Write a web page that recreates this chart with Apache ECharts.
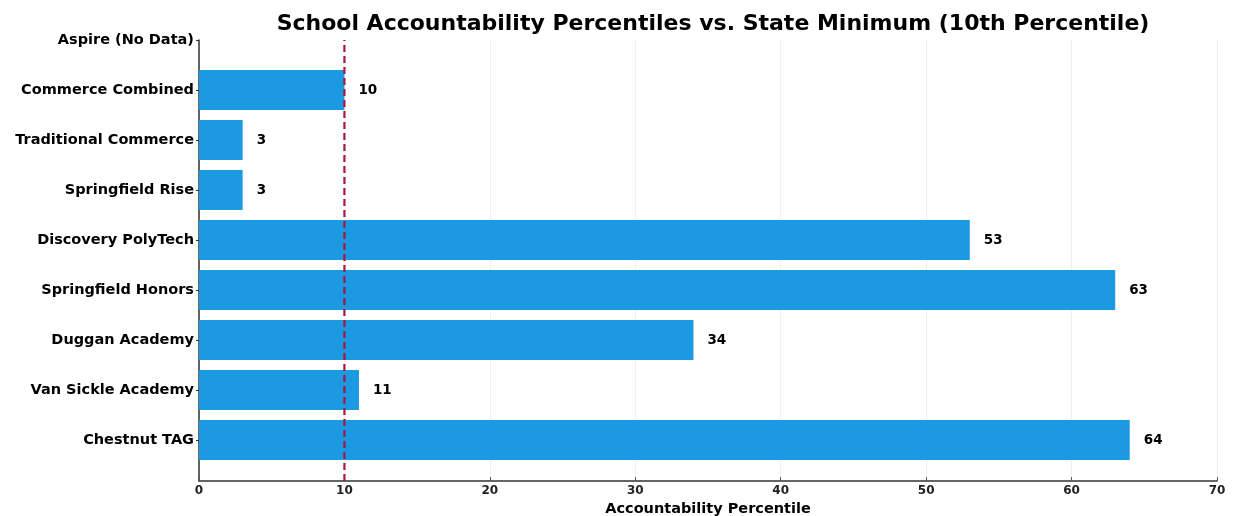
<!DOCTYPE html>
<html>
<head>
<meta charset="utf-8">
<script src="https://cdn.jsdelivr.net/npm/echarts@6/dist/echarts.min.js"></script>
<style>html,body{margin:0;padding:0;background:#fff;}#c{width:1236px;height:516px;}</style>
</head>
<body>
<div id="c"></div>
<script>
// Categories from bottom (index 0) to top
const schools = ['Chestnut TAG', 'Van Sickle Academy', 'Duggan Academy', 'Springfield Honors', 'Discovery PolyTech', 'Springfield Rise', 'Traditional Commerce', 'Commerce Combined', 'Aspire (No Data)'];
const percentiles = [64, 11, 34, 63, 53, 3, 3, 10, null];
const stateMinimum = 10;
const xTicks = [0, 10, 20, 30, 40, 50, 60, 70];
const categoryTicks = [0, 1, 2, 3, 4, 5, 6, 7, 8];

const FONT = 'DejaVu Sans';
const BAR = '#1b9ae2';

const chart = echarts.init(document.getElementById('c'), null, {renderer: 'canvas'});
const barData = percentiles.map((v, i) => [v == null ? '-' : v, i]);

chart.setOption({
  backgroundColor: '#fff',
  animation: false,
  title: {
    text: 'School Accountability Percentiles vs. State Minimum (10th Percentile)',
    left: 708, top: 8, textAlign: 'center',
    textStyle: {fontFamily: FONT, fontSize: 22, fontWeight: 'bold', color: '#000'}
  },
  grid: {left: 199, right: 19, top: 40, bottom: 35, outerBoundsMode: 'none', containLabel: false},
  xAxis: {
    type: 'value', min: 0, max: 70, interval: 10,
    name: 'Accountability Percentile', nameLocation: 'middle', nameGap: 20,
    nameTextStyle: {fontFamily: FONT, fontSize: 14.5, fontWeight: 'bold', color: '#000'},
    axisLine: {show: true, onZero: false, lineStyle: {color: '#333', width: 1.5}},
    axisTick: {show: true, inside: true, length: 4, lineStyle: {color: '#555'}},
    axisLabel: {fontFamily: FONT, fontSize: 12, fontWeight: 'bold', color: '#222', margin: 4},
    splitLine: {show: true, lineStyle: {color: '#f0f0f0', width: 1}}
  },
  yAxis: {
    type: 'value', min: -0.82, max: 8,
    axisLine: {show: true, onZero: false, lineStyle: {color: '#333', width: 1.5}},
    axisTick: {show: true, length: 3, customValues: categoryTicks, lineStyle: {color: '#333'}},
    axisLabel: {
      customValues: categoryTicks,
      formatter: v => schools[Math.round(v)] || '',
      fontFamily: FONT, fontSize: 14.5, fontWeight: 'bold', color: '#000', margin: 5
    },
    splitLine: {show: false}
  },
  series: [
    {
      type: 'custom',
      data: barData,
      encode: {x: 0, y: 1},
      renderItem: function (params, api) {
        const v = api.value(0), i = api.value(1);
        if (v == null || isNaN(v)) return null;
        const p0 = api.coord([0, i + 0.4]);
        const p1 = api.coord([v, i - 0.4]);
        return {
          type: 'group',
          children: [
            {type: 'rect', shape: {x: p0[0], y: p0[1], width: p1[0] - p0[0], height: p1[1] - p0[1]}, style: {fill: BAR}},
            {type: 'text', style: {text: String(v), x: p1[0] + 14, y: (p0[1] + p1[1]) / 2, verticalAlign: 'middle', align: 'left', fill: '#000', font: 'bold 13.5px "DejaVu Sans"'}}
          ]
        };
      },
      z: 2
    },
    {
      type: 'line',
      data: [[stateMinimum, -0.82], [stateMinimum, 8]],
      symbol: 'none',
      lineStyle: {color: '#a8173f', width: 2.2, type: [7, 4]},
      z: 5
    }
  ]
});
</script>
</body>
</html>
